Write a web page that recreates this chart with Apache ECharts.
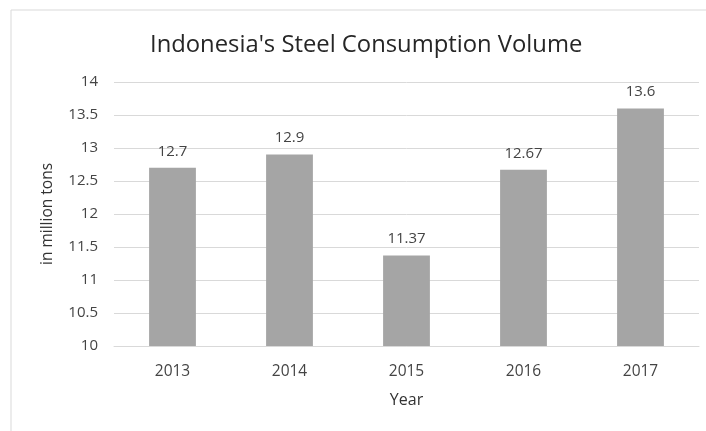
<!DOCTYPE html>
<html>
<head>
<meta charset="utf-8">
<script src="https://cdn.jsdelivr.net/npm/echarts@6/dist/echarts.min.js"></script>
<style>
  html, body { margin: 0; padding: 0; background: #fff; }
  #chart { width: 706px; height: 431px; }
</style>
</head>
<body>
<div id="chart"></div>
<script>
// Indonesia's steel consumption, million tons per year
const years = ['2013', '2014', '2015', '2016', '2017'];
const consumption = [12.7, 12.9, 11.37, 12.67, 13.6];
const yTicks = { min: 10, max: 14, step: 0.5 };

const FONT = '"Open Sans", Lato, sans-serif';
const TEXT = '#444';

const chart = echarts.init(document.getElementById('chart'), null, { renderer: 'canvas' });
chart.setOption({
  animation: false,
  backgroundColor: '#fff',
  graphic: [{
    type: 'rect',
    shape: { x: 11, y: 10, width: 720, height: 440 },
    style: { fill: 'none', stroke: '#d9d9d9', lineWidth: 1 },
    silent: true
  }],
  title: {
    text: "Indonesia's Steel Consumption Volume",
    left: 145,
    top: 28,
    textStyle: { fontFamily: FONT, fontSize: 23.8, fontWeight: 'normal', color: '#262626' }
  },
  grid: { left: 114, right: 7, top: 82, bottom: 85 },
  xAxis: {
    type: 'category',
    data: years,
    name: 'Year',
    nameLocation: 'middle',
    nameGap: 46,
    nameTextStyle: { fontFamily: FONT, fontSize: 16, color: '#333' },
    axisLine: { show: true, lineStyle: { color: '#d9d9d9', width: 1 } },
    axisTick: { show: false },
    axisLabel: { fontFamily: FONT, fontSize: 15.5, color: TEXT, margin: 18 }
  },
  yAxis: {
    type: 'value',
    min: yTicks.min,
    max: yTicks.max,
    interval: yTicks.step,
    name: 'in million tons',
    nameLocation: 'middle',
    nameGap: 58,
    nameTextStyle: { fontFamily: FONT, fontSize: 15.5, color: '#333' },
    axisLine: { show: false },
    axisTick: { show: false },
    axisLabel: { fontFamily: FONT, fontSize: 15, color: TEXT, margin: 16 },
    splitLine: { lineStyle: { color: '#d9d9d9', width: 1 } }
  },
  series: [{
    type: 'bar',
    data: consumption,
    barWidth: '40%',
    itemStyle: { color: '#a5a5a5' },
    label: {
      show: true,
      position: 'top',
      distance: 9,
      fontFamily: FONT,
      fontSize: 15,
      color: TEXT
    }
  }]
});
</script>
</body>
</html>
